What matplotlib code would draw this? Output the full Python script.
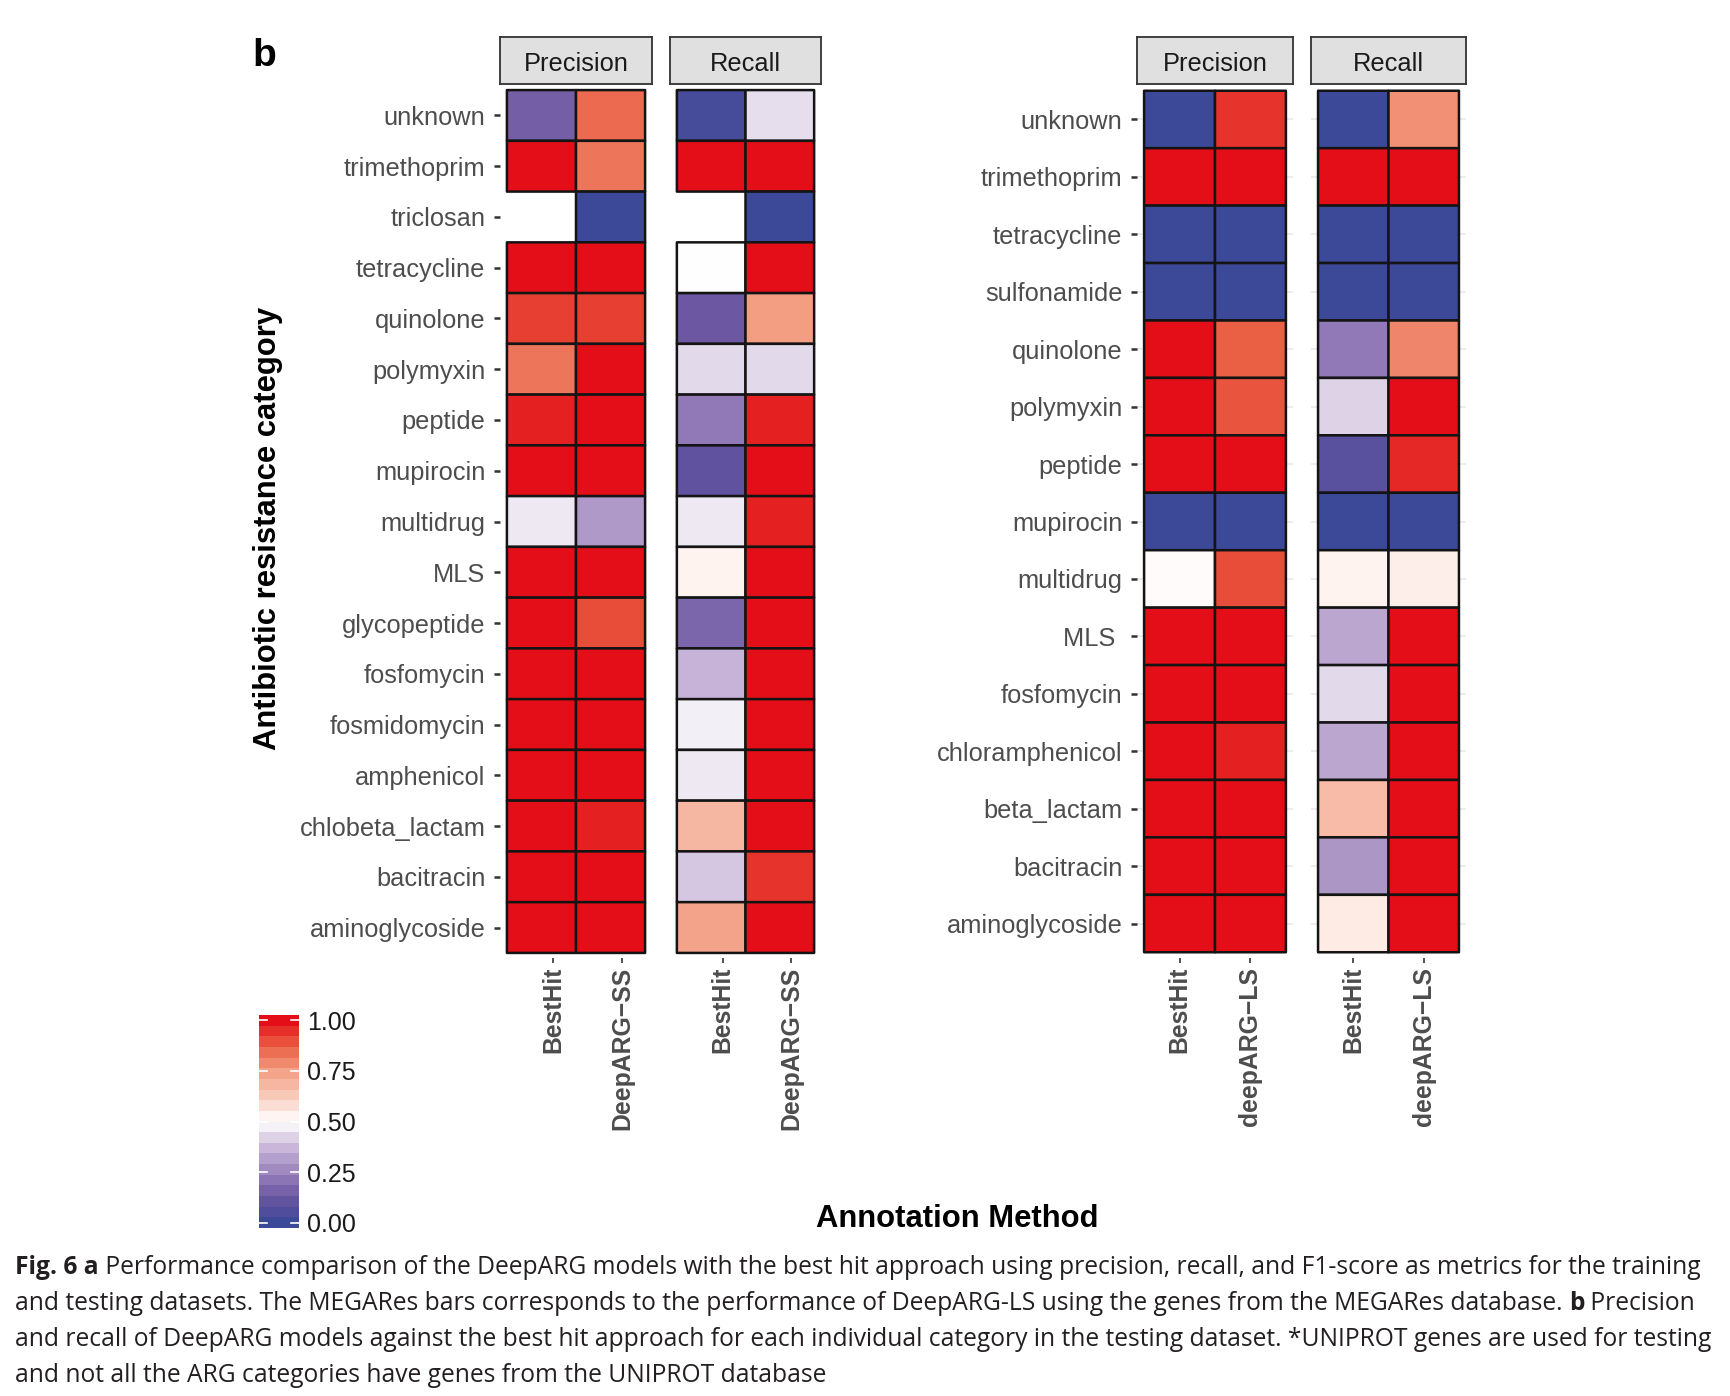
import numpy as np
import matplotlib
matplotlib.use('Agg')
import matplotlib.pyplot as plt
from matplotlib.colors import LinearSegmentedColormap

nan = np.nan

# left block: DeepARG-SS vs BestHit
ss_categories = ['unknown', 'trimethoprim', 'triclosan', 'tetracycline', 'quinolone',
                 'polymyxin', 'peptide', 'mupirocin', 'multidrug', 'MLS', 'glycopeptide',
                 'fosfomycin', 'fosmidomycin', 'amphenicol', 'chlobeta_lactam',
                 'bacitracin', 'aminoglycoside']
ss_methods = ['BestHit', 'DeepARG\u2212SS']
ss_prec_besthit = [0.15, 1.0, nan, 1.0, 0.92, 0.83, 0.97, 1.0, 0.46, 1.0, 1.0, 1.0, 1.0, 1.0, 1.0, 1.0, 1.0]
ss_prec_deeparg = [0.85, 0.83, 0.0, 1.0, 0.92, 1.0, 1.0, 1.0, 0.30, 1.0, 0.90, 1.0, 1.0, 1.0, 0.97, 1.0, 1.0]
ss_rec_besthit = [0.03, 1.0, nan, 0.50, 0.13, 0.43, 0.22, 0.10, 0.46, 0.53, 0.17, 0.36, 0.47, 0.46, 0.68, 0.40, 0.74]
ss_rec_deeparg = [0.44, 1.0, 0.0, 1.0, 0.75, 0.43, 0.97, 1.0, 0.97, 1.0, 1.0, 1.0, 1.0, 1.0, 1.0, 0.94, 1.0]

# right block: deepARG-LS vs BestHit
ls_categories = ['unknown', 'trimethoprim', 'tetracycline', 'sulfonamide', 'quinolone',
                 'polymyxin', 'peptide', 'mupirocin', 'multidrug', 'MLS ', 'fosfomycin',
                 'chloramphenicol', 'beta_lactam', 'bacitracin', 'aminoglycoside']
ls_methods = ['BestHit', 'deepARG\u2212LS']
ls_prec_besthit = [0.0, 1.0, 0.0, 0.0, 1.0, 1.0, 1.0, 0.0, 0.51, 1.0, 1.0, 1.0, 1.0, 1.0, 1.0]
ls_prec_deeparg = [0.94, 1.0, 0.0, 0.0, 0.87, 0.89, 1.0, 0.0, 0.90, 1.0, 1.0, 0.97, 1.0, 1.0, 1.0]
ls_rec_besthit = [0.0, 1.0, 0.0, 0.0, 0.22, 0.42, 0.08, 0.0, 0.53, 0.33, 0.43, 0.33, 0.67, 0.29, 0.55]
ls_rec_deeparg = [0.78, 1.0, 0.0, 0.0, 0.80, 1.0, 0.96, 0.0, 0.54, 1.0, 1.0, 1.0, 1.0, 1.0, 1.0]

cbar_ticks = [0.0, 0.25, 0.5, 0.75, 1.0]

plt.rcParams['font.family'] = ['Liberation Sans', 'DejaVu Sans']

cmap = LinearSegmentedColormap.from_list('bwr_lab', [
    (0.0, '#3c4898'), (0.125, '#6a55a1'), (0.25, '#9c85bd'), (0.375, '#cbb9da'),
    (0.5, '#ffffff'), (0.625, '#f9cbbb'), (0.75, '#f3a085'), (0.875, '#ea5e43'),
    (1.0, '#e30e17')])

W, H = 1730, 1396
fig = plt.figure(figsize=(W / 100, H / 100), dpi=100)
fig.patch.set_facecolor('white')


def rect(x0, y0, x1, y1):
    # pixel box (top-left origin) -> figure fraction
    return [x0 / W, 1 - y1 / H, (x1 - x0) / W, (y1 - y0) / H]


def panel(box, cats, col_a, col_b, methods, title, show_y, grid, tick_off=0.0):
    x0, y0, x1, y1 = box
    ax = fig.add_axes(rect(x0, y0, x1, y1))
    n = len(cats)
    z = np.ma.masked_invalid(np.column_stack([col_a, col_b]))
    ax.pcolor(np.arange(3) - 0.5, np.arange(n + 1) - 0.5, z, cmap=cmap, vmin=0, vmax=1,
              edgecolors='#141414', linewidth=1.8)
    ax.set_xlim(-0.6, 1.6)
    ax.set_ylim(n - 0.4, -0.6)
    for s in ax.spines.values():
        s.set_visible(False)
    # the left block's labels sit a little right of the column centres
    ax.set_xticks([0 + tick_off, 1 + tick_off])
    ax.set_xticklabels(methods, rotation=90, fontsize=17.8, fontweight='bold', color='#4d4d4d')
    ax.set_yticks(range(n))
    if show_y:
        ax.set_yticklabels(cats, fontsize=18.3, color='#4d4d4d')
        ax.tick_params(axis='y', length=4.5, width=1.8, color='#333333', pad=6)
    else:
        ax.set_yticklabels([])
        ax.tick_params(axis='y', length=0)
    ax.tick_params(axis='x', length=3.5, width=1.2, color='#333333', pad=3)
    if grid:
        ax.grid(axis='y', color='#ebebeb', linewidth=1.3)
        ax.set_axisbelow(True)
    # facet strip
    sa = fig.add_axes(rect(x0, 37, x1, y0 - 1))
    sa.set_facecolor('#e0e0e0')
    sa.set_xticks([])
    sa.set_yticks([])
    for s in sa.spines.values():
        s.set_color('#333333')
        s.set_linewidth(1.3)
    sa.text(0.5, 0.42, title, transform=sa.transAxes, ha='center', va='center',
            fontsize=18.3, color='#1a1a1a')
    return ax


panel((500, 85, 652, 958), ss_categories, ss_prec_besthit, ss_prec_deeparg, ss_methods,
      'Precision', True, False, tick_off=0.17)
panel((670, 85, 821, 958), ss_categories, ss_rec_besthit, ss_rec_deeparg, ss_methods,
      'Recall', False, False, tick_off=0.17)
panel((1137, 85, 1293, 958), ls_categories, ls_prec_besthit, ls_prec_deeparg, ls_methods,
      'Precision', True, True)
panel((1311, 85, 1466, 958), ls_categories, ls_rec_besthit, ls_rec_deeparg, ls_methods,
      'Recall', False, True)

# binned colour legend
nbin = 20
cax = fig.add_axes(rect(259, 1015, 299, 1228))
half = 0.5 / (nbin - 1)
edges = np.linspace(-half, 1 + half, nbin + 1)
vals = np.linspace(0, 1, nbin)
cax.pcolormesh([0, 1], edges, vals[:, None], cmap=cmap, vmin=0, vmax=1)
cax.set_xlim(0, 1)
cax.set_ylim(edges[0], edges[-1])
for s in cax.spines.values():
    s.set_visible(False)
cax.set_xticks([])
for v in cbar_ticks:
    cax.plot([0, 0.2], [v, v], color='white', lw=1.2)
    cax.plot([0.8, 1], [v, v], color='white', lw=1.2)
cax.yaxis.tick_right()
cax.set_yticks(cbar_ticks)
cax.set_yticklabels(['%.2f' % v for v in cbar_ticks], fontsize=18, color='#1a1a1a')
cax.tick_params(axis='y', length=0, pad=6)

fig.text(264 / W, 1 - 56 / H, 'b', fontsize=28, fontweight='bold', ha='center', va='center')
fig.text(268 / W, 1 - 528 / H, 'Antibiotic resistance category', rotation=90, fontsize=22.3,
         fontweight='bold', ha='center', va='center')
fig.text(957 / W, 1 - 1219 / H, 'Annotation Method', fontsize=22.3, fontweight='bold',
         ha='center', va='center')

# caption
cap_lines = [
    [('Fig. 6 a', True), (' Performance comparison of the DeepARG models with the best hit approach using precision, recall, and F1-score as metrics for the training', False)],
    [('and testing datasets. The MEGARes bars corresponds to the performance of DeepARG-LS using the genes from the MEGARes database. ', False), ('b', True), (' Precision', False)],
    [('and recall of DeepARG models against the best hit approach for each individual category in the testing dataset. *UNIPROT genes are used for testing', False)],
    [('and not all the ARG categories have genes from the UNIPROT database', False)],
]
cap_y = [1267, 1303, 1339, 1376]
renderer = fig.canvas.get_renderer()


def draw_line(parts, y, size, keep=True):
    x = 15
    for s, bold in parts:
        t = fig.text(x / W, 1 - y / H, s, fontsize=size, family=['Open Sans', 'DejaVu Sans'],
                     fontweight='bold' if bold else 'normal', color='#231f20',
                     ha='left', va='center')
        x += t.get_window_extent(renderer=renderer).width
        if not keep:
            t.remove()
    return x


size = 16.0
probe = draw_line(cap_lines[0], 600, size, keep=False)
size = size * (1705 - 15) / (probe - 15)
for parts, y in zip(cap_lines, cap_y):
    draw_line(parts, y, size)

fig.savefig('out.png', dpi=100, facecolor='white')
